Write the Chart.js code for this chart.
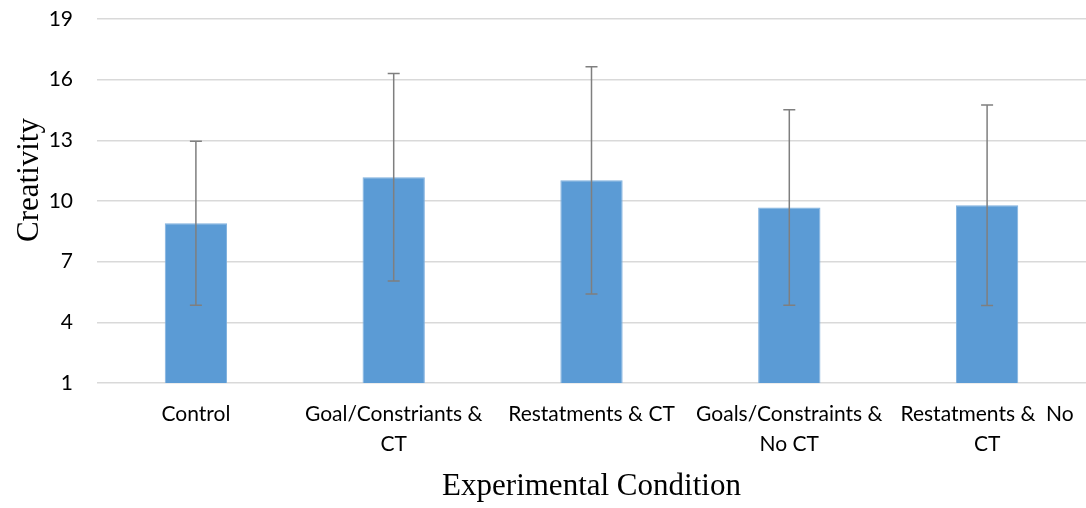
<!DOCTYPE html>
<html>
<head>
<meta charset="utf-8">
<script src="https://cdn.jsdelivr.net/npm/chart.js@4/dist/chart.umd.min.js"></script>
<style>
  html, body { margin: 0; padding: 0; background: #ffffff; }
  #wrap { width: 1086px; height: 508px; position: relative; }
</style>
</head>
<body>
<div id="wrap"><canvas id="c" width="1086" height="508"></canvas></div>
<script>
const categories = [
  "Control",
  ["Goal/Constriants &", "CT"],
  "Restatments & CT",
  ["Goals/Constraints &", "No CT"],
  ["Restatments &  No", "CT"]
];
const meanValues = [8.9, 11.18, 11.02, 9.68, 9.79];
const errorValues = [4.05, 5.13, 5.62, 4.83, 4.96];
const yTicks = [1, 4, 7, 10, 13, 16, 19];
const xTitle = "Experimental Condition";
const yTitle = "Creativity";

const errorBarPlugin = {
  id: 'errorBars',
  afterDatasetsDraw(chart) {
    const ctx = chart.ctx;
    const yScale = chart.scales.y;
    const meta = chart.getDatasetMeta(0);
    ctx.save();
    ctx.strokeStyle = '#7f7f7f';
    ctx.lineWidth = 1.5;
    meta.data.forEach((bar, i) => {
      const v = meanValues[i], e = errorValues[i];
      const x = bar.x;
      const yTop = yScale.getPixelForValue(v + e);
      const yBot = yScale.getPixelForValue(v - e);
      ctx.beginPath();
      ctx.moveTo(x, yTop); ctx.lineTo(x, yBot);
      ctx.moveTo(x - 6, yTop); ctx.lineTo(x + 6, yTop);
      ctx.moveTo(x - 6, yBot); ctx.lineTo(x + 6, yBot);
      ctx.stroke();
    });
    ctx.restore();
  }
};

const yTitlePlugin = {
  id: 'yTitle',
  afterDraw(chart) {
    const ctx = chart.ctx;
    ctx.save();
    ctx.translate(30, 180);
    ctx.rotate(-Math.PI / 2);
    ctx.font = '31px "Liberation Serif"';
    ctx.fillStyle = '#000000';
    ctx.textAlign = 'center';
    ctx.textBaseline = 'middle';
    ctx.fillText(yTitle, 0, 0);
    ctx.restore();
  }
};

new Chart(document.getElementById('c'), {
  type: 'bar',
  data: {
    labels: categories,
    datasets: [{
      data: meanValues,
      backgroundColor: '#5b9bd5',
      borderColor: '#7fb0de',
      borderWidth: 1,
      barPercentage: 0.315,
      categoryPercentage: 1.0
    }]
  },
  options: {
    responsive: false,
    animation: false,
    devicePixelRatio: 1,
    layout: { padding: { top: 19, right: 0, bottom: 0, left: 0 } },
    plugins: { legend: { display: false }, tooltip: { enabled: false } },
    scales: {
      x: {
        grid: { display: false, drawTicks: false },
        border: { display: false },
        ticks: {
          autoSkip: false, maxRotation: 0, minRotation: 0,
          padding: 16,
          color: '#000000',
          font: { family: 'Lato', size: 21, lineHeight: 1.45 }
        },
        title: {
          display: true, text: xTitle, color: '#000000',
          font: { family: '"Liberation Serif"', size: 31, lineHeight: 1.2 },
          padding: { top: 0, bottom: 3 }
        },
        afterFit(scale) { scale.height = 125; scale.paddingLeft = 0; scale.paddingRight = 0; }
      },
      y: {
        min: 1, max: 19,
        afterBuildTicks(scale) { scale.ticks = yTicks.map(v => ({ value: v })); },
        grid: { color: '#d9d9d9', lineWidth: 1.5, drawTicks: false },
        border: { display: false },
        ticks: {
          padding: 24,
          color: '#000000',
          font: { family: 'Lato', size: 21 }
        },
        afterFit(scale) { scale.width = 97; scale.paddingTop = 0; scale.paddingBottom = 0; }
      }
    }
  },
  plugins: [errorBarPlugin, yTitlePlugin]
});
</script>
</body>
</html>
